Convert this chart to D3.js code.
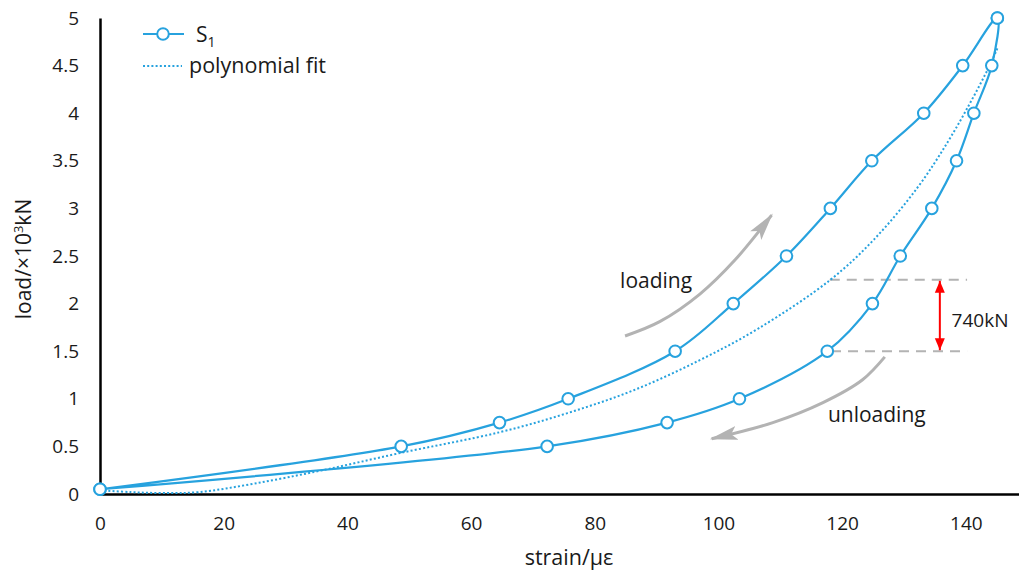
<!DOCTYPE html>
<html>
<head>
<meta charset="utf-8">
<script src="https://cdn.jsdelivr.net/npm/d3@7"></script>
<style>
  body { margin: 0; background: #fff; }
  svg { display: block; font-family: "Open Sans", sans-serif; }
</style>
</head>
<body>
<main></main>
<script>
// loading branch (strain in µε, load in 10^3 kN)
const loadStrain = [0, 48.7, 64.6, 75.7, 93.0, 102.4, 111.0, 118.1, 124.8, 133.2, 139.5, 145.1];
const loadLoad   = [0.05, 0.5, 0.75, 1, 1.5, 2, 2.5, 3, 3.5, 4, 4.5, 5];
// unloading branch
const unloadStrain = [145.1, 144.2, 141.3, 138.5, 134.5, 129.4, 124.9, 117.6, 103.4, 91.7, 72.3, 0];
const unloadLoad   = [5, 4.5, 4, 3.5, 3, 2.5, 2, 1.5, 1, 0.75, 0.5, 0.05];
// polynomial fit
const fitStrain = [0, 5, 10, 16, 25, 36, 48.5, 64.7, 75.6, 86.3, 97.1, 106.5, 118.1, 125.1, 132.2, 137.1, 140.8, 143.7, 145.1];
const fitLoad   = [0.04, 0.02, 0.01, 0.02, 0.11, 0.25, 0.43, 0.65, 0.85, 1.09, 1.41, 1.74, 2.25, 2.67, 3.22, 3.70, 4.12, 4.48, 4.68];

const xTicks = [0, 20, 40, 60, 80, 100, 120, 140];
const yTicks = [0, 0.5, 1, 1.5, 2, 2.5, 3, 3.5, 4, 4.5, 5];

// annotations (data coords)
const loadingArrow = [[84.9, 1.66], [90.5, 1.81], [97.0, 2.10], [102.7, 2.46], [108.6, 2.93]];
const unloadingArrow = [[126.9, 1.44], [123.3, 1.20], [116.9, 0.96], [108.8, 0.75], [98.9, 0.58]];
const gapLevels = [2.25, 1.5];
const gapStart = [118.0, 118.2];
const gapEnd = 140.2;
const gapArrowX = 135.8;

const width = 1019, height = 571;
const blue = "#27a2de";
const grey = "#b3b3b3";
const ink = "#1a1a1a";

const svg = d3.select("main").append("svg")
    .attr("width", width)
    .attr("height", height);

const x = d3.scaleLinear().domain([0, 148.6]).range([100, 1019]);
const y = d3.scaleLinear().domain([0, 5]).range([494, 18]);

// axes
const xAxis = svg.append("g")
    .attr("transform", "translate(0," + y(0) + ")")
    .call(d3.axisBottom(x).tickValues(xTicks).tickSize(0).tickSizeOuter(0).tickPadding(23));
const yAxis = svg.append("g")
    .attr("transform", "translate(" + x(0) + ",0)")
    .call(d3.axisLeft(y).tickValues(yTicks).tickSize(0).tickSizeOuter(0).tickPadding(21).tickFormat(d => d));

[xAxis, yAxis].forEach(g => {
    g.select(".domain").attr("stroke", "#000").attr("stroke-width", 2.5);
    g.selectAll("text").attr("font-size", 19).attr("fill", ink).attr("font-family", "Open Sans");
});

svg.append("text")
    .attr("x", 569).attr("y", 565)
    .attr("text-anchor", "middle")
    .attr("font-size", 21.5).attr("fill", ink)
    .text("strain/με");

const yTitle = svg.append("text")
    .attr("transform", "translate(31,259) rotate(-90)")
    .attr("text-anchor", "middle")
    .attr("font-size", 21).attr("fill", ink);
yTitle.append("tspan").text("load/×10");
yTitle.append("tspan").attr("font-size", 13).attr("dy", -8).text("3");
yTitle.append("tspan").attr("dy", 8).text("kN");

// marker defs
const defs = svg.append("defs");
defs.append("marker")
    .attr("id", "greyHead")
    .attr("viewBox", "0 -8 28 16")
    .attr("refX", 26).attr("refY", 0)
    .attr("markerWidth", 28).attr("markerHeight", 16)
    .attr("markerUnits", "userSpaceOnUse")
    .attr("orient", "auto")
    .append("path")
    .attr("d", "M0,-7L28,0L0,7L6,0Z")
    .attr("fill", grey);
defs.append("marker")
    .attr("id", "redHead")
    .attr("viewBox", "0 -6 12 12")
    .attr("refX", 12).attr("refY", 0)
    .attr("markerWidth", 12).attr("markerHeight", 12)
    .attr("markerUnits", "userSpaceOnUse")
    .attr("orient", "auto-start-reverse")
    .append("path")
    .attr("d", "M0,-5L12,0L0,5Z")
    .attr("fill", "#ff0000");

// gap annotation
gapLevels.forEach((lv, i) => {
    svg.append("line")
        .attr("x1", x(gapStart[i])).attr("x2", x(gapEnd))
        .attr("y1", y(lv)).attr("y2", y(lv))
        .attr("stroke", grey).attr("stroke-width", 2)
        .attr("stroke-dasharray", "10,7");
});
svg.append("line")
    .attr("x1", x(gapArrowX)).attr("x2", x(gapArrowX))
    .attr("y1", y(gapLevels[0]) + 1).attr("y2", y(gapLevels[1]) - 1)
    .attr("stroke", "#ff0000").attr("stroke-width", 2)
    .attr("marker-start", "url(#redHead)")
    .attr("marker-end", "url(#redHead)");
svg.append("text")
    .attr("x", x(137.7)).attr("y", y(1.83) + 7)
    .attr("font-size", 19).attr("fill", ink)
    .text("740kN");

// loading / unloading arrows
const arrowLine = d3.line().x(d => x(d[0])).y(d => y(d[1])).curve(d3.curveCatmullRom);
[loadingArrow, unloadingArrow].forEach(a => {
    svg.append("path")
        .attr("d", arrowLine(a))
        .attr("fill", "none")
        .attr("stroke", grey).attr("stroke-width", 3)
        .attr("marker-end", "url(#greyHead)");
});
svg.append("text")
    .attr("x", x(84.1)).attr("y", y(2.16))
    .attr("font-size", 21).attr("fill", ink)
    .text("loading");
svg.append("text")
    .attr("x", x(117.7)).attr("y", y(0.76))
    .attr("font-size", 21).attr("fill", ink)
    .text("unloading");

// fit curve
const fitData = fitStrain.map((s, i) => [s, fitLoad[i]]);
svg.append("path")
    .attr("d", d3.line().x(d => x(d[0])).y(d => y(d[1])).curve(d3.curveCatmullRom)(fitData))
    .attr("fill", "none")
    .attr("stroke", blue).attr("stroke-width", 2)
    .attr("stroke-dasharray", "2,2.2");

// measured series
const series = loadStrain.map((s, i) => [s, loadLoad[i]])
    .concat(unloadStrain.slice(1).map((s, i) => [s, unloadLoad[i + 1]]));
svg.append("path")
    .attr("d", d3.line().x(d => x(d[0])).y(d => y(d[1])).curve(d3.curveCatmullRom.alpha(0.5))(series))
    .attr("fill", "none")
    .attr("stroke", blue).attr("stroke-width", 2.2);

const markers = loadStrain.map((s, i) => [s, loadLoad[i]])
    .concat(unloadStrain.map((s, i) => [s, unloadLoad[i]]));
svg.append("g").selectAll("circle")
    .data(markers)
    .join("circle")
    .attr("cx", d => x(d[0])).attr("cy", d => y(d[1]))
    .attr("r", 5.8)
    .attr("fill", "#fff")
    .attr("stroke", blue).attr("stroke-width", 2);

// legend
const lg = svg.append("g");
lg.append("line").attr("x1", 143).attr("x2", 184).attr("y1", 34).attr("y2", 34)
    .attr("stroke", blue).attr("stroke-width", 2.2);
lg.append("circle").attr("cx", 163).attr("cy", 34).attr("r", 5.8)
    .attr("fill", "#fff").attr("stroke", blue).attr("stroke-width", 2);
const s1 = lg.append("text").attr("x", 196).attr("y", 42)
    .attr("font-size", 21).attr("fill", ink);
s1.append("tspan").text("S");
s1.append("tspan").attr("font-size", 14).attr("dy", 5).text("1");
lg.append("line").attr("x1", 143).attr("x2", 182).attr("y1", 66).attr("y2", 66)
    .attr("stroke", blue).attr("stroke-width", 2).attr("stroke-dasharray", "2,2.2");
lg.append("text").attr("x", 189).attr("y", 73)
    .attr("font-size", 21.5).attr("fill", ink)
    .text("polynomial fit");
</script>
</body>
</html>
